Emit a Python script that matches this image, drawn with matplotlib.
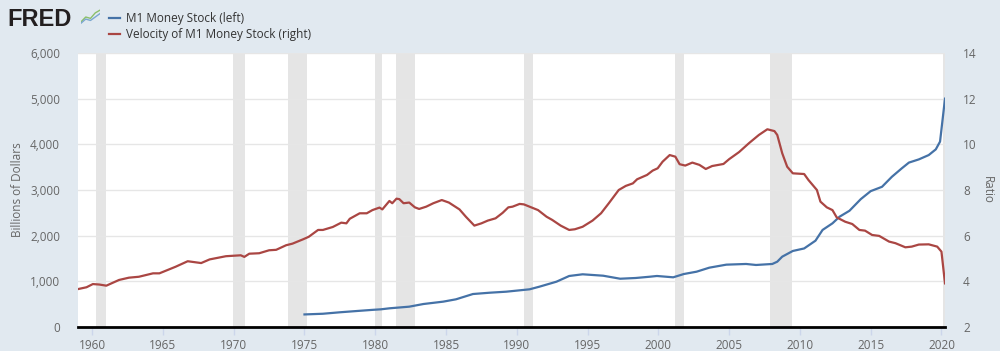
import matplotlib
matplotlib.use("Agg")
import matplotlib.pyplot as plt
from matplotlib.ticker import FuncFormatter, FixedLocator

plt.rcParams['font.family'] = ['Open Sans', 'DejaVu Sans']

# M1 money stock, billions of dollars (left axis)
m1_year = [1975.0, 1976.3, 1977.5, 1978.7, 1979.8, 1980.4, 1981.0, 1982.4, 1983.4,
           1984.8, 1985.7, 1986.9, 1988.1, 1989.25, 1990.9, 1991.6, 1992.8, 1993.7,
           1994.65, 1996.1, 1997.3, 1998.4, 1999.4, 1999.9, 2001.05, 2001.8, 2002.7,
           2003.6, 2004.8, 2006.2, 2006.9, 2008.05, 2008.4, 2008.75, 2009.5, 2010.3,
           2011.1, 2011.6, 2012.3, 2012.8, 2013.5, 2014.3, 2015.0, 2015.8, 2016.5,
           2017.2, 2017.7, 2018.4, 2019.1, 2019.6, 2019.9, 2020.25]
m1_val = [275, 290, 322, 350, 375, 387, 409, 445, 503,
          555, 606, 722, 751, 773, 825, 883, 992, 1117,
          1154, 1123, 1057, 1073, 1101, 1117, 1088, 1160, 1211,
          1299, 1365, 1380, 1358, 1380, 1430, 1540, 1665, 1720,
          1890, 2125, 2270, 2415, 2545, 2800, 2975, 3070, 3290,
          3475, 3600, 3670, 3765, 3890, 4060, 5000]

# Velocity of M1 money stock, ratio (right axis)
vel_year = [1959.0, 1959.6, 1960.05, 1960.5, 1961.0, 1961.9, 1962.6, 1963.3, 1964.3,
            1964.75, 1965.9, 1966.75, 1967.7, 1968.3, 1969.45, 1970.5, 1970.75, 1971.1,
            1971.8, 1972.5, 1973.0, 1973.7, 1974.15, 1974.9, 1975.3, 1975.96, 1976.3,
            1977.0, 1977.6, 1977.96, 1978.2, 1978.9, 1979.4, 1979.8, 1980.3, 1980.5,
            1981.0, 1981.2, 1981.5, 1981.7, 1982.0, 1982.4, 1982.8, 1983.1, 1983.6,
            1984.1, 1984.7, 1985.2, 1985.95, 1986.4, 1987.0, 1987.5, 1987.95, 1988.5,
            1989.0, 1989.4, 1989.7, 1990.2, 1990.5, 1990.9, 1991.5, 1992.1, 1992.5,
            1993.1, 1993.7, 1994.1, 1994.65, 1995.35, 1995.95, 1996.5, 1997.2, 1997.7,
            1998.2, 1998.5, 1999.2, 1999.6, 1999.95, 2000.3, 2000.8, 2001.2, 2001.5,
            2001.9, 2002.4, 2002.9, 2003.35, 2003.8, 2004.6, 2005.0, 2005.7, 2006.4,
            2007.1, 2007.7, 2008.2, 2008.4, 2008.75, 2009.1, 2009.5, 2010.3, 2010.6,
            2011.2, 2011.45, 2011.9, 2012.3, 2012.6, 2013.2, 2013.7, 2014.2, 2014.6,
            2015.1, 2015.6, 2016.3, 2016.75, 2017.45, 2017.9, 2018.4, 2019.1, 2019.7,
            2020.0, 2020.25]
vel_val = [3.66, 3.74, 3.88, 3.86, 3.81, 4.06, 4.16, 4.20, 4.35,
           4.35, 4.64, 4.88, 4.80, 4.96, 5.10, 5.14, 5.07, 5.21,
           5.23, 5.36, 5.38, 5.58, 5.65, 5.84, 5.95, 6.25, 6.25,
           6.38, 6.57, 6.54, 6.74, 6.98, 6.98, 7.12, 7.23, 7.15,
           7.52, 7.42, 7.62, 7.60, 7.42, 7.45, 7.24, 7.17, 7.27,
           7.42, 7.56, 7.45, 7.15, 6.83, 6.44, 6.54, 6.66, 6.76,
           7.00, 7.24, 7.27, 7.39, 7.37, 7.27, 7.12, 6.83, 6.69,
           6.44, 6.25, 6.28, 6.39, 6.66, 6.98, 7.42, 8.00, 8.18,
           8.29, 8.47, 8.66, 8.85, 8.95, 9.24, 9.53, 9.46, 9.13,
           9.07, 9.20, 9.10, 8.92, 9.05, 9.14, 9.35, 9.66, 10.05,
           10.41, 10.66, 10.58, 10.41, 9.61, 9.02, 8.73, 8.70, 8.44,
           8.00, 7.49, 7.24, 7.12, 6.80, 6.61, 6.51, 6.25, 6.22,
           6.03, 5.99, 5.74, 5.67, 5.49, 5.52, 5.61, 5.62, 5.52,
           5.30, 3.91]

# recession periods
rec_start = [1960.25, 1969.92, 1973.83, 1980.0, 1981.5, 1990.5, 2001.17, 2007.92, 2020.08]
rec_end = [1961.0, 1970.83, 1975.17, 1980.5, 1982.83, 1991.17, 2001.83, 2009.42, 2020.25]

x_ticks = list(range(1960, 2021, 5))
left_ticks = [0, 1000, 2000, 3000, 4000, 5000, 6000]
right_ticks = [2, 4, 6, 8, 10, 12, 14]

bg = '#e1e9f0'
blue = '#4572a7'
red = '#aa4643'
txt = '#666666'

fig = plt.figure(figsize=(10, 3.51), dpi=100, facecolor=bg)
ax = fig.add_axes([0.078, 0.0684, 0.867, 0.7806])
ax.set_facecolor('white')

for s, e in zip(rec_start, rec_end):
    ax.axvspan(s, e, color='#e5e5e5', lw=0, zorder=0)
for y in left_ticks[1:]:
    ax.axhline(y, color='#e6e6e6', lw=1, zorder=0.5)

l1, = ax.plot(m1_year, m1_val, color=blue, lw=1.6, zorder=3, label='M1 Money Stock (left)')
ax2 = ax.twinx()
l2, = ax2.plot(vel_year, vel_val, color=red, lw=1.6, zorder=3,
               label='Velocity of M1 Money Stock (right)')

ax.set_xlim(1959.0, 2020.25)
ax.set_ylim(0, 6000)
ax2.set_ylim(2, 14)

ax.xaxis.set_major_locator(FixedLocator(x_ticks))
ax.yaxis.set_major_locator(FixedLocator(left_ticks))
ax2.yaxis.set_major_locator(FixedLocator(right_ticks))
ax.yaxis.set_major_formatter(FuncFormatter(lambda v, p: f'{int(v):,}'))

for a in (ax, ax2):
    for sp in a.spines.values():
        sp.set_visible(False)
ax2.spines['bottom'].set_visible(True)
ax2.spines['bottom'].set_color('black')
ax2.spines['bottom'].set_linewidth(2)
ax2.spines['bottom'].set_zorder(5)

ax.tick_params(axis='x', colors='#ccd6eb', length=6, width=1, labelcolor=txt, labelsize=8.5, pad=3)
ax.tick_params(axis='y', length=0, labelcolor=txt, labelsize=8.5, pad=13)
ax2.tick_params(axis='y', length=0, labelcolor=txt, labelsize=8.5, pad=13)
ax2.tick_params(axis='x', length=0)

ax.set_ylabel('Billions of Dollars', color=txt, fontsize=8.5)
ax2.set_ylabel('Ratio', color=txt, fontsize=8.5, rotation=270)
ax.yaxis.set_label_coords(-0.062, 0.5)
ax2.yaxis.set_label_coords(1.056, 0.5)

# legend
fig.legend(handles=[l1, l2], loc='upper left', bbox_to_anchor=(0.098, 0.997), frameon=False,
           fontsize=8.5, handlelength=1.0, handletextpad=0.45, labelspacing=0.3,
           labelcolor='#333333')

# FRED logo
fig.text(0.007, 0.945, 'FRED', fontsize=17, fontweight='heavy', color='#231f20',
         family=['Liberation Sans', 'DejaVu Sans'], va='center', ha='left')
icon = fig.add_axes([0.081, 0.93, 0.019, 0.045])
icon.plot([0, 1, 2, 3, 4], [0.1, 0.45, 0.35, 0.75, 0.95], color='#8bbf6a', lw=1)
icon.plot([0, 1, 2, 3, 4], [0.0, 0.3, 0.2, 0.45, 0.7], color='#7ba7d0', lw=1)
icon.set_xlim(0, 4)
icon.set_ylim(-0.1, 1.05)
icon.axis('off')

fig.savefig('out.png', dpi=100, facecolor=bg)
